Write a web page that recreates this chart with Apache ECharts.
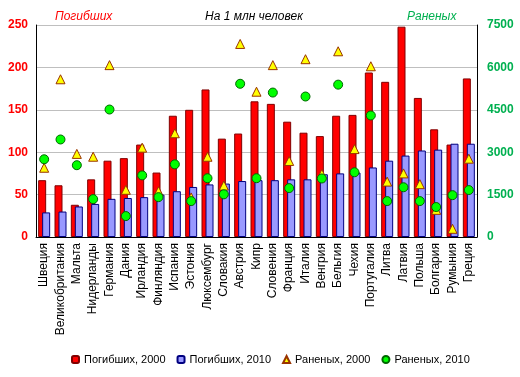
<!DOCTYPE html>
<html>
<head>
    <meta charset="utf-8">
    <title>На 1 млн человек</title>
    <script src="https://cdn.jsdelivr.net/npm/echarts@6/dist/echarts.min.js"></script>
    <style>
        body, html { margin: 0; padding: 0; background: #fff; }
        #main { width: 520px; height: 377px; }
    </style>
</head>
<body>
    <div id="main"></div>
    <script>
        // страны
        const countries = ['Швеция', 'Великобритания', 'Мальта', 'Нидерланды', 'Германия', 'Дания',
            'Ирландия', 'Финляндия', 'Испания', 'Эстония', 'Люксембург', 'Словакия', 'Австрия',
            'Кипр', 'Словения', 'Франция', 'Италия', 'Венгрия', 'Бельгия', 'Чехия', 'Португалия',
            'Литва', 'Латвия', 'Польша', 'Болгария', 'Румыния', 'Греция'];

        // погибших на 1 млн (левая ось)
        const killed2000 = [67, 61, 38, 68, 90, 93, 109, 76, 143, 150, 174, 116, 122,
            160, 157, 136, 123, 119, 143, 144, 194, 183, 248, 164, 127, 109, 187];
        const killed2010 = [29, 30, 36, 39, 45, 46, 47, 50, 54, 59, 62, 63, 66,
            67, 67, 68, 68, 74, 75, 76, 82, 90, 96, 102, 103, 110, 110];

        // раненых на 1 млн (правая ось)
        const injured2000 = [2450, 5580, 2940, 2840, 6080, 1670, 3160, 1620, 3670, 1400, 2840, 1820, 6830,
            5140, 6080, 2690, 6290, 2230, 6570, 3110, 6040, 1960, 2250, 1870, 960, 290, 2770];
        const injured2010 = [2750, 3450, 2540, 1340, 4510, 740, 2180, 1410, 2570, 1270, 2080, 1510, 5420,
            2080, 5110, 1730, 4970, 2070, 5390, 2290, 4300, 1270, 1760, 1270, 1060, 1480, 1660];

        const leftTicks = [0, 250, 50];
        const rightTicks = [0, 7500, 1500];

        const font = 'Liberation Sans, Arial, sans-serif';
        const chart = echarts.init(document.getElementById('main'));

        chart.setOption({
            animation: false,
            backgroundColor: '#fff',
            textStyle: { fontFamily: font },
            title: [
                { text: 'Погибших', left: 50, top: 6,
                  textStyle: { color: '#FF0000', fontSize: 12, fontStyle: 'italic', fontWeight: 'normal', fontFamily: font } },
                { text: 'На 1 млн человек', left: 200, top: 6,
                  textStyle: { color: '#000', fontSize: 12, fontStyle: 'italic', fontWeight: 'normal', fontFamily: font } },
                { text: 'Раненых', left: 402, top: 6,
                  textStyle: { color: '#00B050', fontSize: 12, fontStyle: 'italic', fontWeight: 'normal', fontFamily: font } }
            ],
            legend: {
                bottom: 7,
                left: 66,
                itemWidth: 7,
                itemHeight: 7,
                itemGap: 11,
                textStyle: { fontSize: 11, color: '#000', fontFamily: font }
            },
            grid: { left: 36, right: 43, top: 25, bottom: 140 },
            xAxis: {
                type: 'category',
                data: countries,
                axisLine: { lineStyle: { color: '#000' } },
                axisTick: { show: false },
                axisLabel: { rotate: 90, fontSize: 12, color: '#000', margin: 6, interval: 0 }
            },
            yAxis: [
                {
                    type: 'value', min: leftTicks[0], max: leftTicks[1], interval: leftTicks[2],
                    axisLine: { show: true, lineStyle: { color: '#000' } },
                    axisTick: { show: false },
                    axisLabel: { color: '#FF0000', fontWeight: 'bold', fontSize: 12, margin: 8 },
                    splitLine: { lineStyle: { color: '#BFBFBF' } }
                },
                {
                    type: 'value', min: rightTicks[0], max: rightTicks[1], interval: rightTicks[2],
                    axisLine: { show: true, lineStyle: { color: '#000' } },
                    axisTick: { show: false },
                    axisLabel: { color: '#00B050', fontWeight: 'bold', fontSize: 12, margin: 10,
                                 formatter: v => String(v) },
                    splitLine: { show: false }
                }
            ],
            series: [
                {
                    name: 'Погибших, 2000', type: 'bar', data: killed2000,
                    barWidth: 8, barGap: '-50%',
                    itemStyle: { color: '#FF0000', borderColor: '#800000', borderWidth: 1 }
                },
                {
                    name: 'Погибших, 2010', type: 'bar', data: killed2010,
                    barWidth: 8,
                    itemStyle: { color: '#9999FF', borderColor: '#000080', borderWidth: 1 }
                },
                {
                    name: 'Раненых, 2000', type: 'scatter', yAxisIndex: 1, data: injured2000,
                    symbol: 'triangle', symbolSize: 9,
                    itemStyle: { color: '#FFFF00', borderColor: '#993300', borderWidth: 1, opacity: 1 }
                },
                {
                    name: 'Раненых, 2010', type: 'scatter', yAxisIndex: 1, data: injured2010,
                    symbol: 'circle', symbolSize: 9,
                    itemStyle: { color: '#00FF00', borderColor: '#006600', borderWidth: 1, opacity: 1 }
                }
            ]
        });
    </script>
</body>
</html>
